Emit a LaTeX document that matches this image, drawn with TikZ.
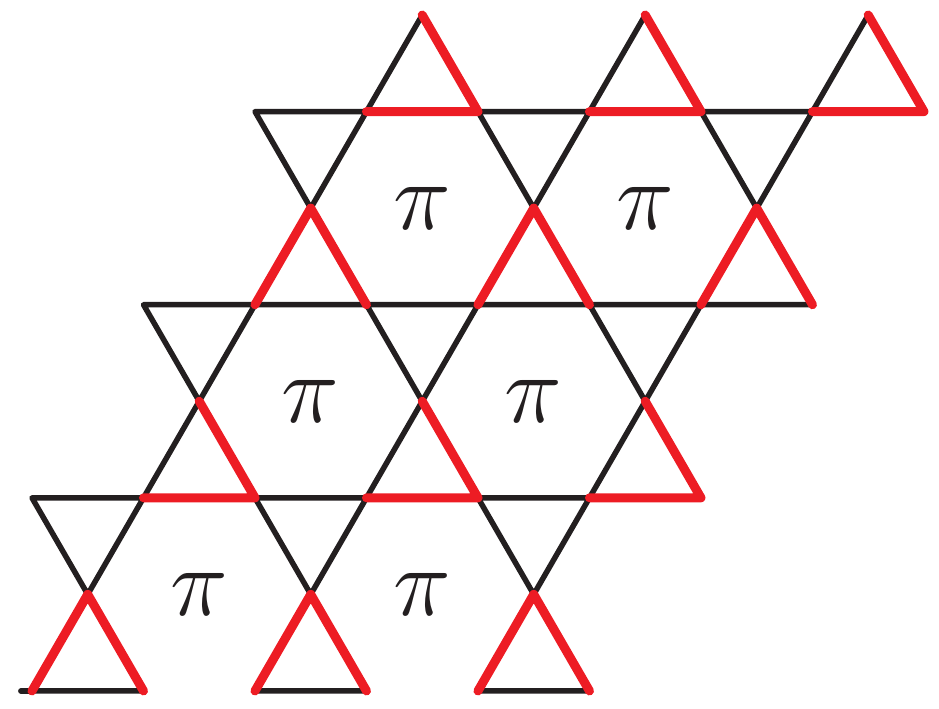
\documentclass[tikz,border=0pt]{standalone}
\usetikzlibrary{calc}
\definecolor{bondC}{RGB}{35,31,32}
\definecolor{flipC}{RGB}{237,28,36}
\tikzset{
	bond/.style={draw=bondC, line width=1.4pt, line cap=round, line join=round},
	flipbond/.style={draw=flipC, line width=2.3pt, line cap=round, line join=round},
	flux/.style={font=\fontsize{28}{32}\selectfont, text=bondC, inner sep=0pt},
}

\begin{document}
\begin{tikzpicture}
		\useasboundingbox (-0.287,-0.161) rectangle (8.135,6.197);
		
		% =============== LATTICE SITES ===============
		% a, b = base of an up triangle, c = its apex
		% d, e = top of the down triangle standing on c
		\foreach \j in {0,...,3}
		\foreach \i in {0,1,2} {
			\coordinate (a\j\i) at ({\j+2*\i},{\j*sqrt(3)});
			\coordinate (b\j\i) at ($(a\j\i)+(1,0)$);
			\coordinate (c\j\i) at ($(a\j\i)+(0.5,{sqrt(3)/2})$);
			\coordinate (d\j\i) at ($(a\j\i)+(0,{sqrt(3)})$);
			\coordinate (e\j\i) at ($(b\j\i)+(0,{sqrt(3)})$);
		}
		\coordinate (w) at ($(a00)+(-0.1,0)$);
		
		% =============== BLACK BONDS ===============
		\foreach \j in {0,...,3}
		\foreach \i in {0,1,2}
		\draw[bond] (a\j\i) -- (b\j\i) -- (c\j\i) -- cycle;
		
		\foreach \j in {0,1,2}
		\foreach \i in {0,1,2}
		\draw[bond] (c\j\i) -- (d\j\i) -- (e\j\i) -- cycle;
		
		\draw[bond] (w) -- (a00);
		
		% =============== RED BONDS ===============
		\foreach \j in {0,2}
		\foreach \i in {0,1,2}
		\draw[flipbond] (a\j\i) -- (c\j\i) -- (b\j\i);
		
		\foreach \j in {1,3}
		\foreach \i in {0,1,2}
		\draw[flipbond] (a\j\i) -- (b\j\i) -- (c\j\i);
		
		% =============== FLUX IN THE HEXAGONS ===============
		\foreach \j in {0,1,2}
		\foreach \i in {0,1} {
			\coordinate (h\j\i) at ($(a\j\i)+(1.5,{sqrt(3)/2})$);
			\node[flux] (pi\j\i) at (h\j\i) {$\pi$};
		}
		
	\end{tikzpicture}
\end{document}
